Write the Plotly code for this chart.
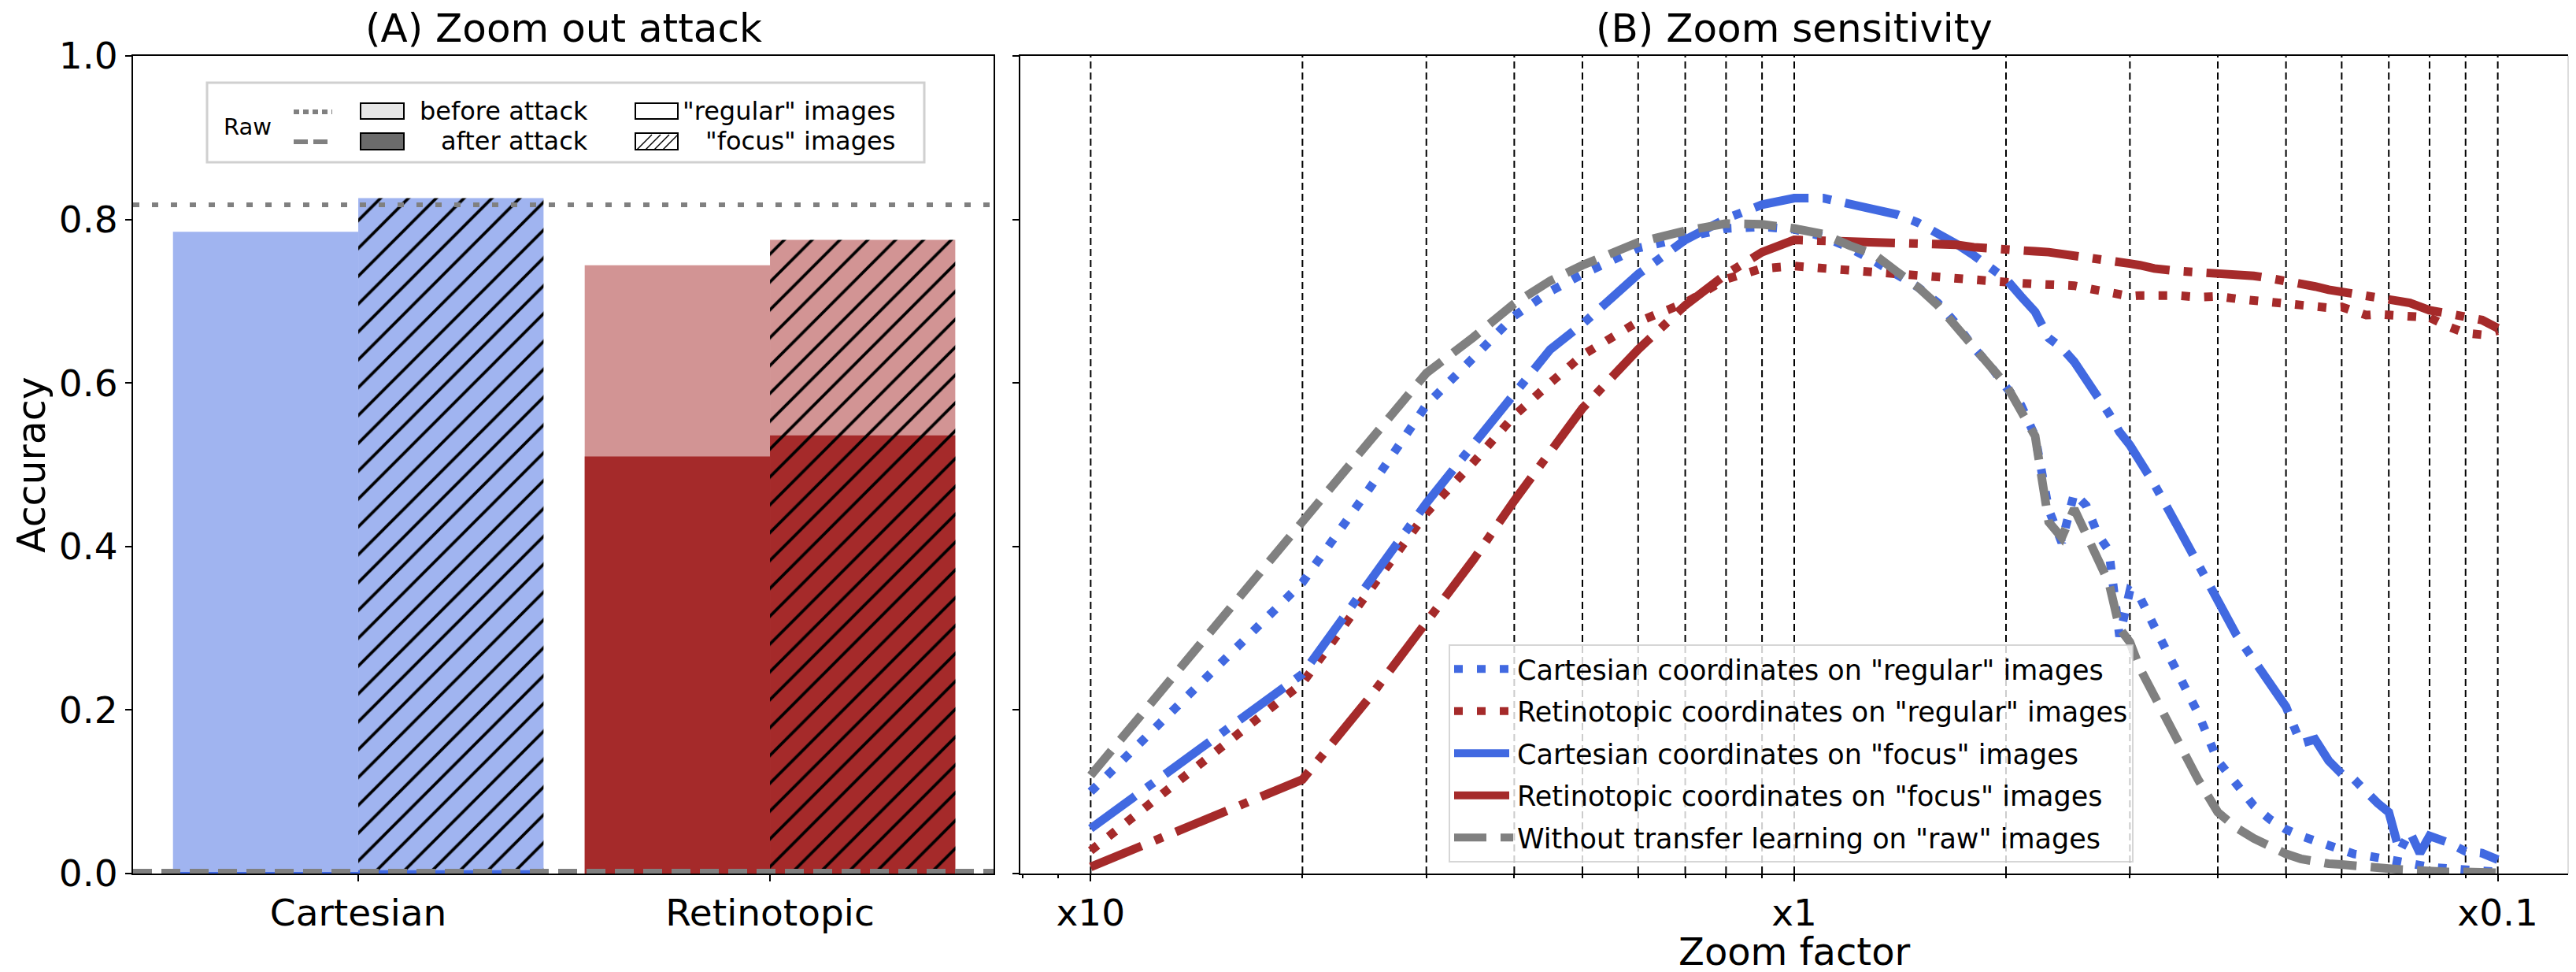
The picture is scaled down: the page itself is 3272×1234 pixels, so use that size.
import plotly.graph_objects as go

# ---------------- (A) ZOOM OUT ATTACK ----------------
CATEGORIES = ["Cartesian", "Retinotopic"]
REGULAR_BEFORE = [0.785, 0.744]
REGULAR_AFTER = [0.002, 0.510]
FOCUS_BEFORE = [0.826, 0.775]
FOCUS_AFTER = [0.004, 0.536]
RAW_BEFORE = 0.818
RAW_AFTER = 0.003

# ---------------- (B) ZOOM SENSITIVITY ----------------
# image scale (the axis shows the zoom factor 1/scale)
SCALE = [0.1, 0.15, 0.2, 0.25, 0.3, 0.35, 0.4, 0.45, 0.5,
         0.6, 0.7, 0.8, 0.9, 1.0,
         1.1, 1.2, 1.3, 1.4, 1.5, 1.6, 1.7, 1.8, 1.9, 2.0,
         2.1, 2.2, 2.3, 2.4, 2.5, 2.6, 2.7, 2.8, 2.9, 3.0, 3.1,
         3.25, 3.5, 3.75, 4.0,
         4.25, 4.5, 4.75, 5.0,
         5.25, 5.5, 5.75, 6.0,
         6.25, 6.5, 6.75, 7.0,
         7.25, 7.5, 7.75, 8.0,
         8.5, 9.0, 9.5, 10.0]

CART_REGULAR = [0.100, 0.249, 0.356, 0.473, 0.573, 0.631, 0.682, 0.712, 0.733,
                0.765, 0.778, 0.789, 0.791, 0.788,
                0.779, 0.765, 0.749, 0.733, 0.717, 0.698, 0.672, 0.643, 0.621, 0.595,
                0.573, 0.535, 0.445, 0.405, 0.465, 0.450, 0.415, 0.395, 0.290, 0.346, 0.338,
                0.302, 0.250, 0.196, 0.138,
                0.108, 0.083, 0.066, 0.054,
                0.046, 0.040, 0.033, 0.027,
                0.024, 0.022, 0.019, 0.017,
                0.014, 0.012, 0.010, 0.008,
                0.006, 0.004, 0.003, 0.002]

RETINO_REGULAR = [0.028, 0.147, 0.233, 0.348, 0.441, 0.503, 0.560, 0.600, 0.634,
                  0.675, 0.698, 0.727, 0.740, 0.743,
                  0.740, 0.738, 0.737, 0.733, 0.730, 0.728, 0.727, 0.725, 0.723, 0.722,
                  0.722, 0.721, 0.720, 0.721, 0.719, 0.716, 0.714, 0.712, 0.709, 0.706, 0.707,
                  0.708, 0.707, 0.705, 0.706,
                  0.703, 0.701, 0.698, 0.696,
                  0.695, 0.694, 0.692, 0.693,
                  0.688, 0.683, 0.684, 0.683,
                  0.681, 0.680, 0.679, 0.680,
                  0.669, 0.661, 0.659, 0.664]

CART_FOCUS = [0.055, 0.167, 0.244, 0.359, 0.453, 0.525, 0.585, 0.641, 0.672,
              0.733, 0.775, 0.801, 0.818, 0.826,
              0.826, 0.819, 0.813, 0.806, 0.796, 0.784, 0.770, 0.756, 0.741, 0.727,
              0.706, 0.687, 0.655, 0.643, 0.626, 0.606, 0.583, 0.563, 0.540, 0.524, 0.505,
              0.476, 0.426, 0.376, 0.334,
              0.292, 0.260, 0.228, 0.204,
              0.159, 0.164, 0.138, 0.122,
              0.115, 0.099, 0.086, 0.075,
              0.027, 0.051, 0.025, 0.046,
              0.038, 0.027, 0.025, 0.017]

RETINO_FOCUS = [0.008, 0.070, 0.115, 0.217, 0.309, 0.384, 0.456, 0.515, 0.569,
                0.641, 0.695, 0.733, 0.760, 0.775,
                0.774, 0.772, 0.773, 0.772, 0.772, 0.770, 0.769, 0.766, 0.764, 0.763,
                0.762, 0.761, 0.760, 0.758, 0.757, 0.755, 0.752, 0.750, 0.748, 0.746, 0.744,
                0.740, 0.737, 0.736, 0.735,
                0.733, 0.731, 0.728, 0.725,
                0.722, 0.718, 0.714, 0.711,
                0.710, 0.708, 0.705, 0.702,
                0.700, 0.698, 0.693, 0.689,
                0.685, 0.680, 0.677, 0.667]

NO_TRANSFER = [0.120, 0.301, 0.433, 0.530, 0.612, 0.656, 0.697, 0.725, 0.744,
               0.772, 0.786, 0.795, 0.794, 0.789,
               0.782, 0.768, 0.757, 0.736, 0.717, 0.695, 0.669, 0.646, 0.621, 0.598,
               0.566, 0.535, 0.430, 0.411, 0.446, 0.415, 0.380, 0.356, 0.300, 0.283, 0.251,
               0.218, 0.162, 0.115, 0.075,
               0.056, 0.043, 0.032, 0.024,
               0.018, 0.014, 0.012, 0.011,
               0.009, 0.007, 0.006, 0.006,
               0.005, 0.004, 0.004, 0.003,
               0.002, 0.002, 0.001, 0.001]

GRID_SCALES = [0.1, 0.2, 0.3, 0.4, 0.5, 0.6, 0.7, 0.8, 0.9,
               1, 2, 3, 4, 5, 6, 7, 8, 9, 10]
MINOR_TICKS = [0.08, 0.09, 0.2, 0.3, 0.4, 0.5, 0.6, 0.7, 0.8, 0.9,
               2, 3, 4, 5, 6, 7, 8, 9]
ZOOM_TICKS = [0.1, 1, 10]
ZOOM_LABELS = ["x10", "x1", "x0.1"]

BLUE = "royalblue"
RED = "#a52a2a"
GRAY = "gray"
BEFORE_COLORS = ["#a0b4f0", "#d29494"]
AFTER_COLORS = [BLUE, RED]

FONT = "DejaVu Sans"
W, H = 3272, 1234
ML, MR, MT, MB = 161, 18, 63, 133
A_RIGHT = 1254   # right edge of panel A (px)
B_LEFT = 1288    # left edge of panel B (px)
PW = W - ML - MR

fig = go.Figure()

# ---------------- panel A bars ----------------
pos = list(range(len(CATEGORIES)))


def add_bars(values, colors, hatched, offset):
    # one trace per category so the hatch keeps a black foreground
    for i in pos:
        marker = dict(color=colors[i], line_width=0)
        if hatched:
            marker["pattern"] = dict(shape="/", size=25, solidity=0.15,
                                     bgcolor=colors[i], fgcolor="black", fgopacity=1)
        fig.add_trace(go.Bar(x=[pos[i]], y=[values[i]], width=0.45, offset=offset,
                             marker=marker, showlegend=False, xaxis="x", yaxis="y"))


add_bars(REGULAR_BEFORE, BEFORE_COLORS, False, -0.45)
add_bars(FOCUS_BEFORE, BEFORE_COLORS, True, 0)
add_bars(REGULAR_AFTER, AFTER_COLORS, False, -0.45)
add_bars(FOCUS_AFTER, AFTER_COLORS, True, 0)

shapes = []
# raw (no transfer) accuracy before / after the attack
shapes.append(dict(type="line", xref="x domain", yref="y", x0=0, x1=1,
                   y0=RAW_BEFORE, y1=RAW_BEFORE,
                   line=dict(color=GRAY, width=6, dash="8px,16px")))
shapes.append(dict(type="line", xref="x domain", yref="y", x0=0, x1=1,
                   y0=RAW_AFTER, y1=RAW_AFTER,
                   line=dict(color=GRAY, width=6, dash="24px,12px")))

# ---------------- panel B ----------------
# vertical reference lines at each zoom level
gx, gy = [], []
for s in GRID_SCALES:
    gx += [s, s, None]
    gy += [0, 1, None]
fig.add_trace(go.Scatter(x=gx, y=gy, mode="lines", hoverinfo="skip",
                         line=dict(color="black", width=2, dash="9px,5px"),
                         showlegend=False, xaxis="x2", yaxis="y2"))

LW = 11
DOT = "11px,18px"
DASH = "41px,18px"
DASHDOT = "70px,18px,11px,18px"
curves = [
    ('Cartesian coordinates on "regular" images', CART_REGULAR, BLUE, DOT),
    ('Retinotopic coordinates on "regular" images', RETINO_REGULAR, RED, DOT),
    ('Cartesian coordinates on "focus" images', CART_FOCUS, BLUE, DASHDOT),
    ('Retinotopic coordinates on "focus" images', RETINO_FOCUS, RED, DASHDOT),
    ('Without transfer learning on "raw" images', NO_TRANSFER, GRAY, DASH),
]
for i, (name, vals, col, dash) in enumerate(curves):
    fig.add_trace(go.Scatter(x=SCALE, y=vals, mode="lines", name=name,
                             legendgroup=str(i),
                             line=dict(color=col, width=LW, dash=dash),
                             xaxis="x2", yaxis="y2"))

# ---------------- panel A hand-made legend ----------------
def ax(px):
    return (px - ML) / (A_RIGHT - ML)


def ay(py):
    return (H - MB - py) / (H - MB - MT)


def rect(x0, y0, x1, y1, fill, line_color="black", width=2):
    shapes.append(dict(type="rect", xref="x domain", yref="y domain",
                       x0=ax(x0), x1=ax(x1), y0=ay(y1), y1=ay(y0),
                       fillcolor=fill, line=dict(color=line_color, width=width)))


def seg(x0, y0, x1, y1, color, width, dash="solid"):
    shapes.append(dict(type="line", xref="x domain", yref="y domain",
                       x0=ax(x0), x1=ax(x1), y0=ay(y0), y1=ay(y1),
                       line=dict(color=color, width=width, dash=dash)))


rect(255, 97, 1166, 198, "rgba(255,255,255,0.8)", "#d0d0d0", 3)
seg(365, 134, 414, 134, GRAY, 6, "7px,5px")
seg(365, 172, 414, 172, GRAY, 6, "18px,7px")
rect(450, 123, 505, 143, "#e6e6e6")
rect(450, 161, 505, 182, "#6b6b6b")
rect(799, 123, 853, 143, "white")
rect(799, 161, 853, 182, "white")
for c in range(2, 36, 11):
    seg(799 + c, 182, 799 + c + 19, 163, "black", 1.5)

annotations = []


def label(x, y, text, anchor, size=32):
    annotations.append(dict(xref="x domain", yref="y domain", x=ax(x), y=ay(y),
                            text=text, showarrow=False, xanchor=anchor,
                            yanchor="middle", font=dict(family=FONT, size=size, color="black")))


label(306, 153, "Raw", "center", 29)
label(741, 133, "before attack", "right")
label(741, 171, "after attack", "right")
label(1131, 133, '"regular" images', "right")
label(1131, 171, '"focus" images', "right")

# faint right border of panel B
shapes.append(dict(type="line", xref="x2 domain", yref="y2 domain", x0=1, x1=1, y0=0, y1=1,
                   line=dict(color="#dddddd", width=2)))

# titles and axis labels
annotations.append(dict(xref="x domain", yref="y domain", x=0.5, y=1, yshift=4,
                        text="(A) Zoom out attack", showarrow=False, yanchor="bottom",
                        font=dict(family=FONT, size=50, color="black")))
annotations.append(dict(xref="x2 domain", yref="y2 domain", x=0.5, y=1, yshift=4,
                        text="(B) Zoom sensitivity", showarrow=False, yanchor="bottom",
                        font=dict(family=FONT, size=50, color="black")))
annotations.append(dict(xref="paper", yref="paper", x=(32 - ML) / PW, y=0.5,
                        text="Accuracy", textangle=-90, showarrow=False,
                        xanchor="center", yanchor="middle",
                        font=dict(family=FONT, size=49, color="black")))
annotations.append(dict(xref="x2 domain", yref="paper", x=0.5, y=(H - MB - 1200) / (H - MB - MT),
                        text="Zoom factor", showarrow=False,
                        xanchor="center", yanchor="middle",
                        font=dict(family=FONT, size=48, color="black")))

axis_style = dict(showline=True, linecolor="black", linewidth=2, ticks="outside",
                  ticklen=8, tickwidth=2, tickcolor="black", showgrid=False, zeroline=False,
                  tickfont=dict(family=FONT, size=47, color="black"))

fig.update_layout(
    width=W, height=H,
    margin=dict(l=ML, r=MR, t=MT, b=MB),
    paper_bgcolor="white", plot_bgcolor="white",
    barmode="overlay",
    font=dict(family=FONT, color="black"),
    xaxis=dict(domain=[0, (A_RIGHT - ML) / PW], range=[-0.547, 1.543],
               tickvals=pos, ticktext=CATEGORIES, mirror=True, anchor="y", **axis_style),
    yaxis=dict(range=[0, 1], tickvals=[0, 0.2, 0.4, 0.6, 0.8, 1.0], tickformat=".1f",
               mirror=True, anchor="x", **axis_style),
    xaxis2=dict(domain=[(B_LEFT - ML) / PW, 1], type="log", range=[-1.1, 1.1],
                tickvals=ZOOM_TICKS, ticktext=ZOOM_LABELS, mirror=True, anchor="y2",
                minor=dict(tickvals=MINOR_TICKS, ticks="outside", ticklen=4,
                           tickwidth=2, tickcolor="black", showgrid=False),
                **axis_style),
    yaxis2=dict(range=[0, 1], tickvals=[0, 0.2, 0.4, 0.6, 0.8, 1.0], showticklabels=False,
                anchor="x2", **axis_style),
    legend=dict(x=(1832 - ML) / PW, y=(H - MB - 810) / (H - MB - MT),
                xanchor="left", yanchor="top",
                font=dict(family=FONT, size=35, color="black"),
                bgcolor="rgba(255,255,255,0.8)", bordercolor="rgba(204,204,204,0.8)",
                borderwidth=2, itemwidth=75, tracegroupgap=5),
    shapes=shapes,
    annotations=annotations,
)

fig.write_html("out.html")
